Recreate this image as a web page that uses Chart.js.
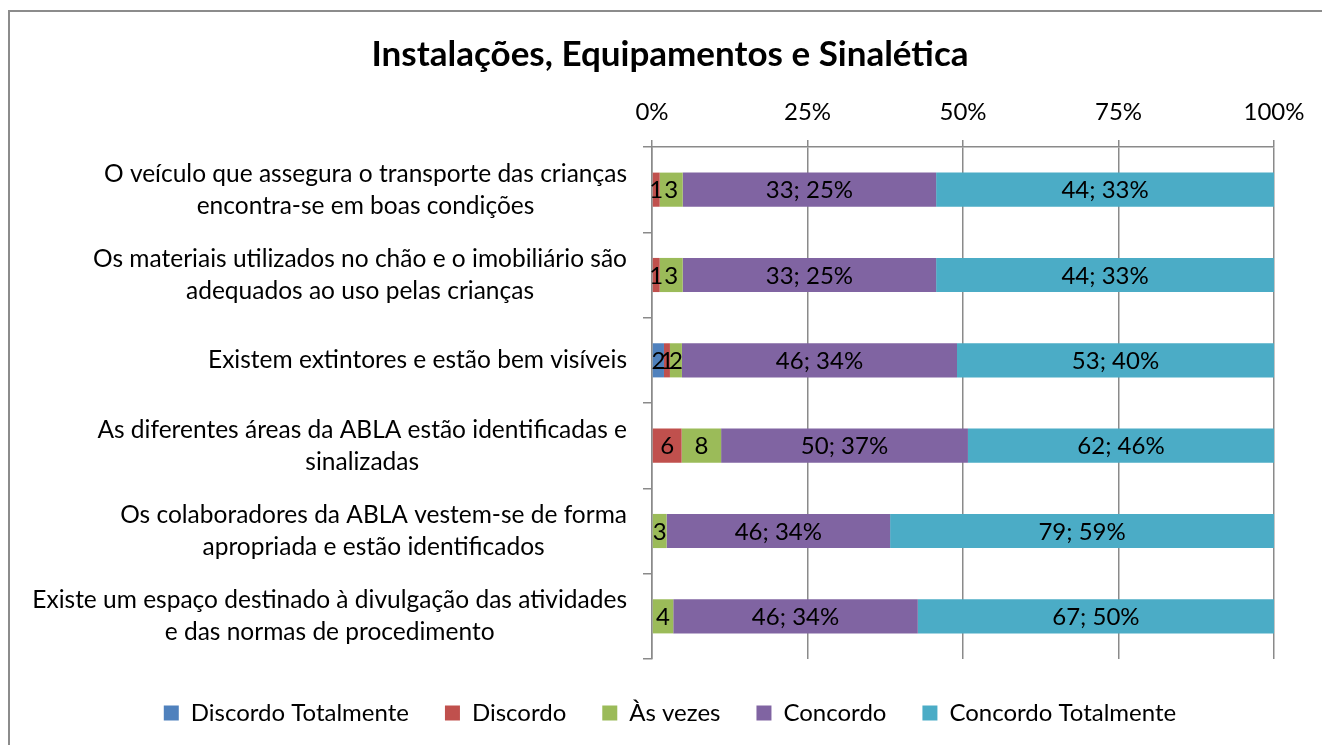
<!DOCTYPE html>
<html>
<head>
<meta charset="utf-8">
<script src="https://cdn.jsdelivr.net/npm/chart.js@4.4.0/dist/chart.umd.min.js"></script>
<style>
    html, body { margin: 0; padding: 0; background: #fff; overflow: hidden; }
    #frame { position: absolute; left: 8px; top: 10px; width: 1400px; height: 800px;
             border-left: 2px solid #8c8c8c; border-top: 2px solid #8c8c8c; }
    #wrap { position: absolute; left: 0; top: 0; width: 1322px; height: 745px; }
</style>
</head>
<body>
<div id="frame"></div>
<div id="wrap"><canvas id="chart"></canvas></div>
<script>
// Categorias (uma linha por elemento do array)
var categories = [
    ['O veículo que assegura o transporte das crianças', 'encontra-se em boas condições'],
    ['Os materiais utilizados no chão e o imobiliário são', 'adequados ao uso pelas crianças'],
    ['Existem extintores e estão bem visíveis'],
    ['As diferentes áreas da ABLA estão identificadas e', 'sinalizadas'],
    ['Os colaboradores da ABLA vestem-se de forma', 'apropriada e estão identificados'],
    ['Existe um espaço destinado à divulgação das atividades', 'e das normas de procedimento']
];

var seriesNames = ['Discordo Totalmente', 'Discordo', 'Às vezes', 'Concordo', 'Concordo Totalmente'];
var seriesColors = ['#4f81bd', '#c0504d', '#9bbb59', '#8064a2', '#4bacc6'];

// Respostas (número de pessoas)
var discordoTotalmente = [0, 0, 2, 0, 0, 0];
var discordo = [1, 1, 1, 6, 0, 0];
var asVezes = [3, 3, 2, 8, 3, 4];
var concordo = [33, 33, 46, 50, 46, 46];
var concordoTotalmente = [44, 44, 53, 62, 79, 67];

// Percentagens mostradas nas etiquetas
var concordoPct = [25, 25, 34, 37, 34, 34];
var concordoTotalmentePct = [33, 33, 40, 46, 59, 50];

var xTicks = [0, 25, 50, 75, 100];

var series = [discordoTotalmente, discordo, asVezes, concordo, concordoTotalmente];
var seriesPct = [null, null, null, concordoPct, concordoTotalmentePct];

var FONT = 'Lato';
var GRID = '#8a8a8a';

// totais por linha para o gráfico a 100%
var totals = categories.map(function(c, i) {
    return series.reduce(function(s, arr) { return s + arr[i]; }, 0);
});

var datasets = series.map(function(arr, k) {
    return {
        label: seriesNames[k],
        data: arr.map(function(v, i) { return v / totals[i] * 100; }),
        counts: arr,
        pct: seriesPct[k],
        backgroundColor: seriesColors[k],
        borderWidth: 0,
        barPercentage: 0.4,
        categoryPercentage: 1
    };
});

// Etiquetas dentro das barras
var barLabels = {
    id: 'barLabels',
    afterDatasetsDraw: function(chart) {
        var ctx = chart.ctx;
        ctx.save();
        ctx.font = '24px ' + FONT;
        ctx.fillStyle = '#000';
        ctx.textAlign = 'center';
        ctx.textBaseline = 'middle';
        chart.data.datasets.forEach(function(ds, k) {
            chart.getDatasetMeta(k).data.forEach(function(bar, i) {
                var v = ds.counts[i];
                if (!v) return;
                var txt = ds.pct ? v + '; ' + ds.pct[i] + '%' : String(v);
                ctx.fillText(txt, (bar.x + bar.base) / 2, bar.y + 1);
            });
        });
        ctx.restore();
    }
};

// Rótulos das categorias: bloco alinhado à direita, linhas centradas
var catLabels = {
    id: 'catLabels',
    afterDraw: function(chart) {
        var ctx = chart.ctx;
        var y = chart.scales.y;
        var right = y.right - 25;
        ctx.save();
        ctx.font = '24.5px ' + FONT;
        ctx.fillStyle = '#000';
        ctx.textAlign = 'center';
        ctx.textBaseline = 'middle';
        categories.forEach(function(lines, i) {
            var w = Math.max.apply(null, lines.map(function(l) { return ctx.measureText(l).width; }));
            var cy = y.getPixelForValue(i);
            var lh = 32;
            var y0 = cy - (lines.length - 1) * lh / 2;
            lines.forEach(function(l, j) {
                ctx.fillText(l, right - w / 2, y0 + j * lh);
            });
        });
        ctx.restore();
    }
};

var ctx = document.getElementById('chart').getContext('2d');
var chart = new Chart(ctx, {
    type: 'bar',
    data: {
        labels: categories.map(function(c) { return c.join(' '); }),
        datasets: datasets
    },
    options: {
        indexAxis: 'y',
        responsive: true,
        maintainAspectRatio: false,
        animation: false,
        layout: { padding: { left: 66, right: 48, top: 0, bottom: 10 } },
        scales: {
            x: {
                position: 'top',
                stacked: true,
                min: 0,
                max: 100,
                afterBuildTicks: function(scale) {
                    scale.ticks = xTicks.map(function(v) { return { value: v }; });
                },
                afterFit: function(scale) { scale.height = 61; },
                ticks: {
                    color: '#000',
                    font: { family: FONT, size: 24 },
                    padding: 13,
                    callback: function(v) { return v + '%'; }
                },
                grid: { color: GRID, lineWidth: 1.5, tickLength: 7 },
                border: { display: true, color: GRID, width: 1.5 }
            },
            // eixo vazio só para reservar espaço por baixo das barras
            xb: {
                type: 'linear',
                position: 'bottom',
                afterFit: function(scale) { scale.height = 6; },
                ticks: { display: false },
                grid: { display: false, drawTicks: false },
                border: { display: false }
            },
            y: {
                stacked: true,
                afterFit: function(scale) { scale.width = 652 - 66; },
                ticks: { color: 'rgba(0,0,0,0)', font: { family: FONT, size: 20 } },
                grid: { drawOnChartArea: false, color: GRID, lineWidth: 1.5, tickLength: 9, offset: true },
                border: { display: true, color: GRID, width: 1.5 }
            }
        },
        plugins: {
            title: {
                display: true,
                text: 'Instalações, Equipamentos e Sinalética',
                color: '#000',
                font: { family: FONT, size: 35, weight: 'bold' },
                padding: { top: 34, bottom: 10 }
            },
            legend: {
                position: 'bottom',
                labels: {
                    color: '#000',
                    font: { family: FONT, size: 24 },
                    boxWidth: 15,
                    boxHeight: 15,
                    padding: 36
                }
            },
            tooltip: { enabled: false }
        }
    },
    plugins: [barLabels, catLabels]
});
</script>
</body>
</html>
